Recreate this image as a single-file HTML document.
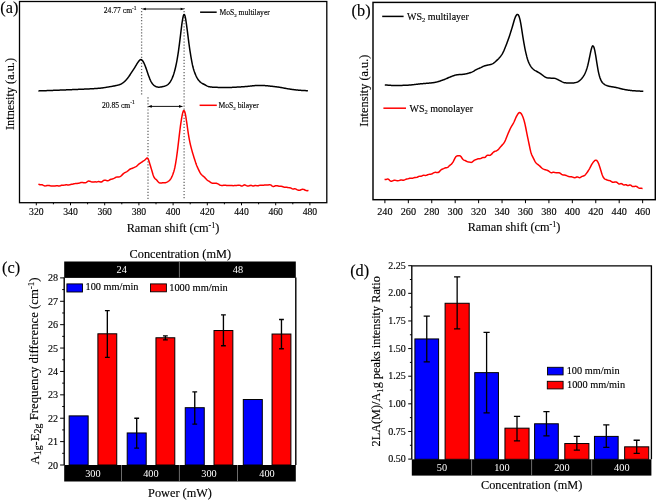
<!DOCTYPE html>
<html><head><meta charset="utf-8"><style>
html,body{margin:0;padding:0;background:#fff;width:656px;height:501px;overflow:hidden;}
</style></head><body>
<svg width="656" height="501" viewBox="0 0 656 501" style="position:absolute;left:0;top:0;font-family:'Liberation Serif', serif;will-change:transform">
<rect x="0" y="0" width="656" height="501" fill="#fff"/>
<style>text{stroke:#000;stroke-width:0.14px;}</style>
<g stroke="#6a6a6a" stroke-width="1.3" stroke-dasharray="1.2,1.85" fill="none">
<line x1="141.6" y1="7.9" x2="141.6" y2="94.5"/>
<line x1="184.1" y1="7.9" x2="184.1" y2="200"/>
<line x1="148" y1="97.2" x2="148" y2="200"/>
</g>
<path d="M38.40,90.89 L38.90,90.88 L39.40,90.87 L39.90,90.85 L40.40,90.83 L40.90,90.82 L41.40,90.80 L41.90,90.78 L42.40,90.77 L42.90,90.75 L43.40,90.73 L43.90,90.72 L44.40,90.70 L44.90,90.68 L45.40,90.66 L45.90,90.65 L46.40,90.63 L46.90,90.61 L47.40,90.59 L47.90,90.58 L48.40,90.56 L48.90,90.54 L49.40,90.52 L49.90,90.50 L50.40,90.49 L50.90,90.47 L51.40,90.45 L51.90,90.43 L52.40,90.41 L52.90,90.39 L53.40,90.37 L53.90,90.36 L54.40,90.34 L54.90,90.32 L55.40,90.30 L55.90,90.28 L56.40,90.26 L56.90,90.24 L57.40,90.22 L57.90,90.20 L58.40,90.18 L58.90,90.16 L59.40,90.14 L59.90,90.12 L60.40,90.10 L60.90,90.08 L61.40,90.06 L61.90,90.04 L62.40,90.02 L62.90,90.00 L63.40,89.98 L63.90,89.96 L64.40,89.94 L64.90,89.92 L65.40,89.90 L65.90,89.88 L66.40,89.86 L66.90,89.84 L67.40,89.82 L67.90,89.80 L68.40,89.78 L68.90,89.76 L69.40,89.74 L69.90,89.72 L70.40,89.69 L70.90,89.67 L71.40,89.65 L71.90,89.63 L72.40,89.61 L72.90,89.59 L73.40,89.57 L73.90,89.55 L74.40,89.53 L74.90,89.50 L75.40,89.48 L75.90,89.46 L76.40,89.44 L76.90,89.42 L77.40,89.40 L77.90,89.38 L78.40,89.36 L78.90,89.34 L79.40,89.32 L79.90,89.30 L80.40,89.28 L80.90,89.26 L81.40,89.24 L81.90,89.22 L82.40,89.20 L82.90,89.18 L83.40,89.16 L83.90,89.13 L84.40,89.11 L84.90,89.09 L85.40,89.07 L85.90,89.05 L86.40,89.03 L86.90,89.00 L87.40,88.98 L87.90,88.96 L88.40,88.93 L88.90,88.91 L89.40,88.88 L89.90,88.86 L90.40,88.83 L90.90,88.80 L91.40,88.78 L91.90,88.75 L92.40,88.72 L92.90,88.70 L93.40,88.67 L93.90,88.64 L94.40,88.61 L94.90,88.58 L95.40,88.55 L95.90,88.52 L96.40,88.48 L96.90,88.45 L97.40,88.41 L97.90,88.37 L98.40,88.34 L98.90,88.29 L99.40,88.25 L99.90,88.20 L100.40,88.16 L100.90,88.10 L101.40,88.04 L101.90,87.98 L102.40,87.92 L102.90,87.85 L103.40,87.77 L103.90,87.70 L104.40,87.62 L104.90,87.54 L105.40,87.46 L105.90,87.37 L106.40,87.29 L106.90,87.20 L107.40,87.12 L107.90,87.03 L108.40,86.95 L108.90,86.87 L109.40,86.78 L109.90,86.70 L110.40,86.62 L110.90,86.54 L111.40,86.46 L111.90,86.37 L112.40,86.29 L112.90,86.20 L113.40,86.11 L113.90,86.02 L114.40,85.92 L114.90,85.82 L115.40,85.71 L115.90,85.61 L116.40,85.50 L116.90,85.39 L117.40,85.27 L117.90,85.14 L118.40,85.00 L118.90,84.85 L119.40,84.69 L119.90,84.50 L120.40,84.30 L120.90,84.06 L121.40,83.79 L121.90,83.49 L122.40,83.16 L122.90,82.81 L123.40,82.44 L123.90,82.05 L124.40,81.62 L124.90,81.17 L125.40,80.68 L125.90,80.15 L126.40,79.60 L126.90,79.02 L127.40,78.42 L127.90,77.79 L128.40,77.13 L128.90,76.44 L129.40,75.71 L129.90,74.96 L130.40,74.20 L130.90,73.43 L131.40,72.66 L131.90,71.90 L132.40,71.14 L132.90,70.38 L133.40,69.62 L133.90,68.85 L134.40,68.08 L134.90,67.28 L135.40,66.47 L135.90,65.64 L136.40,64.79 L136.90,63.96 L137.40,63.15 L137.90,62.39 L138.40,61.69 L138.90,61.04 L139.40,60.46 L139.90,59.98 L140.40,59.66 L140.90,59.55 L141.40,59.67 L141.90,60.01 L142.40,60.53 L142.90,61.20 L143.40,62.01 L143.90,62.95 L144.40,64.03 L144.90,65.23 L145.40,66.52 L145.90,67.88 L146.40,69.29 L146.90,70.75 L147.40,72.24 L147.90,73.71 L148.40,75.15 L148.90,76.53 L149.40,77.86 L149.90,79.11 L150.40,80.27 L150.90,81.30 L151.40,82.20 L151.90,82.99 L152.40,83.68 L152.90,84.29 L153.40,84.83 L153.90,85.28 L154.40,85.66 L154.90,85.98 L155.40,86.26 L155.90,86.51 L156.40,86.72 L156.90,86.90 L157.40,87.03 L157.90,87.11 L158.40,87.15 L158.90,87.16 L159.40,87.13 L159.90,87.09 L160.40,87.03 L160.90,86.96 L161.40,86.89 L161.90,86.80 L162.40,86.71 L162.90,86.61 L163.40,86.50 L163.90,86.37 L164.40,86.23 L164.90,86.07 L165.40,85.89 L165.90,85.68 L166.40,85.45 L166.90,85.19 L167.40,84.88 L167.90,84.51 L168.40,84.07 L168.90,83.55 L169.40,82.96 L169.90,82.29 L170.40,81.55 L170.90,80.73 L171.40,79.80 L171.90,78.78 L172.40,77.64 L172.90,76.38 L173.40,74.99 L173.90,73.46 L174.40,71.78 L174.90,69.95 L175.40,67.96 L175.90,65.78 L176.40,63.41 L176.90,60.81 L177.40,57.97 L177.90,54.89 L178.40,51.54 L178.90,47.96 L179.40,44.16 L179.90,40.17 L180.40,36.06 L180.90,31.90 L181.40,27.81 L181.90,23.96 L182.40,20.51 L182.90,17.66 L183.40,15.59 L183.90,14.47 L184.40,14.46 L184.90,15.56 L185.40,17.65 L185.90,20.50 L186.40,23.87 L186.90,27.54 L187.40,31.39 L187.90,35.36 L188.40,39.36 L188.90,43.25 L189.40,46.91 L189.90,50.30 L190.40,53.49 L190.90,56.54 L191.40,59.45 L191.90,62.17 L192.40,64.63 L192.90,66.80 L193.40,68.67 L193.90,70.32 L194.40,71.80 L194.90,73.14 L195.40,74.38 L195.90,75.53 L196.40,76.60 L196.90,77.58 L197.40,78.46 L197.90,79.24 L198.40,79.94 L198.90,80.56 L199.40,81.12 L199.90,81.63 L200.40,82.09 L200.90,82.51 L201.40,82.88 L201.90,83.21 L202.40,83.51 L202.90,83.79 L203.40,84.04 L203.90,84.28 L204.40,84.52 L204.90,84.77 L205.40,85.03 L205.90,85.31 L206.40,85.59 L206.90,85.87 L207.40,86.13 L207.90,86.35 L208.40,86.53 L208.90,86.67 L209.40,86.78 L209.90,86.86 L210.40,86.93 L210.90,87.00 L211.40,87.05 L211.90,87.10 L212.40,87.15 L212.90,87.19 L213.40,87.22 L213.90,87.25 L214.40,87.27 L214.90,87.29 L215.40,87.31 L215.90,87.33 L216.40,87.34 L216.90,87.36 L217.40,87.37 L217.90,87.38 L218.40,87.40 L218.90,87.41 L219.40,87.42 L219.90,87.43 L220.40,87.44 L220.90,87.45 L221.40,87.46 L221.90,87.47 L222.40,87.47 L222.90,87.48 L223.40,87.48 L223.90,87.49 L224.40,87.49 L224.90,87.50 L225.40,87.50 L225.90,87.50 L226.40,87.50 L226.90,87.50 L227.40,87.49 L227.90,87.49 L228.40,87.48 L228.90,87.47 L229.40,87.46 L229.90,87.44 L230.40,87.43 L230.90,87.41 L231.40,87.40 L231.90,87.38 L232.40,87.36 L232.90,87.33 L233.40,87.31 L233.90,87.29 L234.40,87.26 L234.90,87.24 L235.40,87.21 L235.90,87.18 L236.40,87.15 L236.90,87.12 L237.40,87.09 L237.90,87.06 L238.40,87.03 L238.90,87.00 L239.40,86.97 L239.90,86.94 L240.40,86.91 L240.90,86.88 L241.40,86.85 L241.90,86.82 L242.40,86.78 L242.90,86.75 L243.40,86.72 L243.90,86.69 L244.40,86.66 L244.90,86.62 L245.40,86.58 L245.90,86.54 L246.40,86.50 L246.90,86.45 L247.40,86.40 L247.90,86.35 L248.40,86.30 L248.90,86.24 L249.40,86.19 L249.90,86.13 L250.40,86.08 L250.90,86.02 L251.40,85.97 L251.90,85.91 L252.40,85.86 L252.90,85.81 L253.40,85.76 L253.90,85.71 L254.40,85.67 L254.90,85.62 L255.40,85.58 L255.90,85.55 L256.40,85.51 L256.90,85.48 L257.40,85.46 L257.90,85.44 L258.40,85.42 L258.90,85.41 L259.40,85.41 L259.90,85.41 L260.40,85.41 L260.90,85.42 L261.40,85.43 L261.90,85.45 L262.40,85.47 L262.90,85.49 L263.40,85.52 L263.90,85.55 L264.40,85.58 L264.90,85.61 L265.40,85.65 L265.90,85.69 L266.40,85.73 L266.90,85.78 L267.40,85.83 L267.90,85.87 L268.40,85.92 L268.90,85.98 L269.40,86.03 L269.90,86.08 L270.40,86.14 L270.90,86.19 L271.40,86.25 L271.90,86.30 L272.40,86.36 L272.90,86.42 L273.40,86.48 L273.90,86.53 L274.40,86.59 L274.90,86.64 L275.40,86.70 L275.90,86.76 L276.40,86.82 L276.90,86.89 L277.40,86.96 L277.90,87.03 L278.40,87.10 L278.90,87.18 L279.40,87.26 L279.90,87.35 L280.40,87.43 L280.90,87.52 L281.40,87.61 L281.90,87.70 L282.40,87.79 L282.90,87.88 L283.40,87.97 L283.90,88.07 L284.40,88.16 L284.90,88.25 L285.40,88.35 L285.90,88.44 L286.40,88.53 L286.90,88.62 L287.40,88.71 L287.90,88.79 L288.40,88.88 L288.90,88.96 L289.40,89.04 L289.90,89.11 L290.40,89.19 L290.90,89.26 L291.40,89.33 L291.90,89.39 L292.40,89.46 L292.90,89.53 L293.40,89.59 L293.90,89.66 L294.40,89.72 L294.90,89.78 L295.40,89.84 L295.90,89.90 L296.40,89.96 L296.90,90.02 L297.40,90.07 L297.90,90.12 L298.40,90.17 L298.90,90.21 L299.40,90.25 L299.90,90.29 L300.40,90.33 L300.90,90.36 L301.40,90.39 L301.90,90.42 L302.40,90.45 L302.90,90.48 L303.40,90.51 L303.90,90.54 L304.40,90.56 L304.90,90.59 L305.40,90.61 L305.90,90.63 L306.40,90.65 L306.90,90.66 L307.40,90.68 L307.90,90.68" stroke="#000" stroke-width="1.5" fill="none" stroke-linejoin="round"/>
<path d="M38.40,184.08 L38.90,184.29 L39.40,184.51 L39.90,184.66 L40.40,184.70 L40.90,184.67 L41.40,184.64 L41.90,184.67 L42.40,184.82 L42.90,185.07 L43.40,185.36 L43.90,185.62 L44.40,185.81 L44.90,185.89 L45.40,185.88 L45.90,185.81 L46.40,185.71 L46.90,185.59 L47.40,185.49 L47.90,185.42 L48.40,185.40 L48.90,185.46 L49.40,185.57 L49.90,185.70 L50.40,185.83 L50.90,185.92 L51.40,185.96 L51.90,185.95 L52.40,185.92 L52.90,185.89 L53.40,185.88 L53.90,185.89 L54.40,185.90 L54.90,185.90 L55.40,185.89 L55.90,185.85 L56.40,185.82 L56.90,185.80 L57.40,185.80 L57.90,185.85 L58.40,185.91 L58.90,185.95 L59.40,185.94 L59.90,185.85 L60.40,185.69 L60.90,185.50 L61.40,185.32 L61.90,185.20 L62.40,185.16 L62.90,185.17 L63.40,185.19 L63.90,185.18 L64.40,185.12 L64.90,185.02 L65.40,184.91 L65.90,184.82 L66.40,184.79 L66.90,184.83 L67.40,184.89 L67.90,184.95 L68.40,184.96 L68.90,184.91 L69.40,184.81 L69.90,184.68 L70.40,184.54 L70.90,184.43 L71.40,184.33 L71.90,184.25 L72.40,184.16 L72.90,184.07 L73.40,183.95 L73.90,183.83 L74.40,183.71 L74.90,183.62 L75.40,183.55 L75.90,183.51 L76.40,183.48 L76.90,183.45 L77.40,183.41 L77.90,183.35 L78.40,183.28 L78.90,183.17 L79.40,183.04 L79.90,182.89 L80.40,182.73 L80.90,182.58 L81.40,182.49 L81.90,182.46 L82.40,182.50 L82.90,182.58 L83.40,182.68 L83.90,182.78 L84.40,182.84 L84.90,182.86 L85.40,182.80 L85.90,182.63 L86.40,182.35 L86.90,181.99 L87.40,181.62 L87.90,181.30 L88.40,181.11 L88.90,181.07 L89.40,181.14 L89.90,181.29 L90.40,181.48 L90.90,181.67 L91.40,181.85 L91.90,181.99 L92.40,182.08 L92.90,182.09 L93.40,182.04 L93.90,181.97 L94.40,181.89 L94.90,181.85 L95.40,181.85 L95.90,181.88 L96.40,181.90 L96.90,181.88 L97.40,181.81 L97.90,181.70 L98.40,181.61 L98.90,181.57 L99.40,181.64 L99.90,181.79 L100.40,181.96 L100.90,182.07 L101.40,182.03 L101.90,181.79 L102.40,181.42 L102.90,180.99 L103.40,180.59 L103.90,180.31 L104.40,180.17 L104.90,180.15 L105.40,180.22 L105.90,180.34 L106.40,180.50 L106.90,180.65 L107.40,180.74 L107.90,180.74 L108.40,180.59 L108.90,180.33 L109.40,180.02 L109.90,179.71 L110.40,179.46 L110.90,179.29 L111.40,179.16 L111.90,179.06 L112.40,178.94 L112.90,178.78 L113.40,178.58 L113.90,178.35 L114.40,178.09 L114.90,177.82 L115.40,177.55 L115.90,177.31 L116.40,177.12 L116.90,177.00 L117.40,176.97 L117.90,176.98 L118.40,177.00 L118.90,176.98 L119.40,176.88 L119.90,176.69 L120.40,176.41 L120.90,176.05 L121.40,175.62 L121.90,175.14 L122.40,174.63 L122.90,174.12 L123.40,173.66 L123.90,173.25 L124.40,172.90 L124.90,172.60 L125.40,172.33 L125.90,172.07 L126.40,171.81 L126.90,171.53 L127.40,171.21 L127.90,170.85 L128.40,170.44 L128.90,170.01 L129.40,169.59 L129.90,169.23 L130.40,168.95 L130.90,168.73 L131.40,168.56 L131.90,168.41 L132.40,168.25 L132.90,168.05 L133.40,167.84 L133.90,167.61 L134.40,167.38 L134.90,167.14 L135.40,166.89 L135.90,166.61 L136.40,166.29 L136.90,165.90 L137.40,165.46 L137.90,165.00 L138.40,164.54 L138.90,164.10 L139.40,163.72 L139.90,163.37 L140.40,163.04 L140.90,162.72 L141.40,162.38 L141.90,162.03 L142.40,161.68 L142.90,161.33 L143.40,160.99 L143.90,160.65 L144.40,160.29 L144.90,159.89 L145.40,159.44 L145.90,158.94 L146.40,158.45 L146.90,158.09 L147.40,158.05 L147.90,158.49 L148.40,159.47 L148.90,160.86 L149.40,162.49 L149.90,164.18 L150.40,165.84 L150.90,167.48 L151.40,169.14 L151.90,170.83 L152.40,172.55 L152.90,174.20 L153.40,175.69 L153.90,176.90 L154.40,177.81 L154.90,178.43 L155.40,178.90 L155.90,179.31 L156.40,179.77 L156.90,180.33 L157.40,180.94 L157.90,181.56 L158.40,182.11 L158.90,182.54 L159.40,182.82 L159.90,182.98 L160.40,183.04 L160.90,183.03 L161.40,182.98 L161.90,182.90 L162.40,182.82 L162.90,182.75 L163.40,182.72 L163.90,182.73 L164.40,182.74 L164.90,182.74 L165.40,182.68 L165.90,182.56 L166.40,182.37 L166.90,182.13 L167.40,181.85 L167.90,181.55 L168.40,181.23 L168.90,180.87 L169.40,180.45 L169.90,179.94 L170.40,179.31 L170.90,178.57 L171.40,177.70 L171.90,176.69 L172.40,175.55 L172.90,174.27 L173.40,172.85 L173.90,171.25 L174.40,169.40 L174.90,167.22 L175.40,164.66 L175.90,161.74 L176.40,158.49 L176.90,154.95 L177.40,151.14 L177.90,147.10 L178.40,142.88 L178.90,138.59 L179.40,134.34 L179.90,130.24 L180.40,126.38 L180.90,122.80 L181.40,119.53 L181.90,116.60 L182.40,114.11 L182.90,112.16 L183.40,110.90 L183.90,110.47 L184.40,110.93 L184.90,112.27 L185.40,114.41 L185.90,117.17 L186.40,120.33 L186.90,123.73 L187.40,127.26 L187.90,130.77 L188.40,134.12 L188.90,137.20 L189.40,139.95 L189.90,142.40 L190.40,144.61 L190.90,146.65 L191.40,148.57 L191.90,150.42 L192.40,152.20 L192.90,153.91 L193.40,155.56 L193.90,157.16 L194.40,158.75 L194.90,160.34 L195.40,161.89 L195.90,163.37 L196.40,164.73 L196.90,165.97 L197.40,167.13 L197.90,168.23 L198.40,169.31 L198.90,170.39 L199.40,171.43 L199.90,172.38 L200.40,173.21 L200.90,173.93 L201.40,174.53 L201.90,175.05 L202.40,175.51 L202.90,175.92 L203.40,176.32 L203.90,176.72 L204.40,177.15 L204.90,177.64 L205.40,178.19 L205.90,178.77 L206.40,179.33 L206.90,179.84 L207.40,180.25 L207.90,180.59 L208.40,180.89 L208.90,181.18 L209.40,181.49 L209.90,181.84 L210.40,182.20 L210.90,182.53 L211.40,182.81 L211.90,183.02 L212.40,183.15 L212.90,183.23 L213.40,183.26 L213.90,183.25 L214.40,183.22 L214.90,183.20 L215.40,183.19 L215.90,183.23 L216.40,183.32 L216.90,183.46 L217.40,183.65 L217.90,183.88 L218.40,184.16 L218.90,184.46 L219.40,184.75 L219.90,185.02 L220.40,185.23 L220.90,185.37 L221.40,185.45 L221.90,185.48 L222.40,185.45 L222.90,185.39 L223.40,185.31 L223.90,185.24 L224.40,185.20 L224.90,185.20 L225.40,185.25 L225.90,185.33 L226.40,185.42 L226.90,185.50 L227.40,185.56 L227.90,185.59 L228.40,185.61 L228.90,185.61 L229.40,185.59 L229.90,185.57 L230.40,185.54 L230.90,185.53 L231.40,185.54 L231.90,185.57 L232.40,185.61 L232.90,185.64 L233.40,185.64 L233.90,185.61 L234.40,185.55 L234.90,185.49 L235.40,185.44 L235.90,185.40 L236.40,185.39 L236.90,185.38 L237.40,185.37 L237.90,185.34 L238.40,185.30 L238.90,185.27 L239.40,185.28 L239.90,185.37 L240.40,185.54 L240.90,185.76 L241.40,185.95 L241.90,186.04 L242.40,185.95 L242.90,185.69 L243.40,185.35 L243.90,185.05 L244.40,184.87 L244.90,184.91 L245.40,185.11 L245.90,185.39 L246.40,185.68 L246.90,185.89 L247.40,186.01 L247.90,186.04 L248.40,185.99 L248.90,185.87 L249.40,185.70 L249.90,185.52 L250.40,185.39 L250.90,185.34 L251.40,185.42 L251.90,185.59 L252.40,185.78 L252.90,185.92 L253.40,185.94 L253.90,185.85 L254.40,185.69 L254.90,185.54 L255.40,185.46 L255.90,185.50 L256.40,185.62 L256.90,185.76 L257.40,185.86 L257.90,185.85 L258.40,185.73 L258.90,185.56 L259.40,185.39 L259.90,185.27 L260.40,185.23 L260.90,185.23 L261.40,185.26 L261.90,185.29 L262.40,185.28 L262.90,185.25 L263.40,185.21 L263.90,185.16 L264.40,185.10 L264.90,185.05 L265.40,185.01 L265.90,184.97 L266.40,184.95 L266.90,184.94 L267.40,184.94 L267.90,184.93 L268.40,184.91 L268.90,184.86 L269.40,184.81 L269.90,184.80 L270.40,184.87 L270.90,185.06 L271.40,185.40 L271.90,185.79 L272.40,186.16 L272.90,186.42 L273.40,186.49 L273.90,186.40 L274.40,186.21 L274.90,186.00 L275.40,185.82 L275.90,185.72 L276.40,185.69 L276.90,185.72 L277.40,185.80 L277.90,185.91 L278.40,186.04 L278.90,186.16 L279.40,186.26 L279.90,186.30 L280.40,186.31 L280.90,186.31 L281.40,186.33 L281.90,186.42 L282.40,186.57 L282.90,186.75 L283.40,186.94 L283.90,187.09 L284.40,187.16 L284.90,187.17 L285.40,187.16 L285.90,187.16 L286.40,187.20 L286.90,187.30 L287.40,187.41 L287.90,187.53 L288.40,187.62 L288.90,187.66 L289.40,187.69 L289.90,187.75 L290.40,187.86 L290.90,188.06 L291.40,188.34 L291.90,188.63 L292.40,188.86 L292.90,188.99 L293.40,188.99 L293.90,188.91 L294.40,188.83 L294.90,188.79 L295.40,188.87 L295.90,189.05 L296.40,189.30 L296.90,189.58 L297.40,189.85 L297.90,190.08 L298.40,190.25 L298.90,190.35 L299.40,190.34 L299.90,190.22 L300.40,190.02 L300.90,189.79 L301.40,189.57 L301.90,189.41 L302.40,189.33 L302.90,189.31 L303.40,189.38 L303.90,189.52 L304.40,189.72 L304.90,189.96 L305.40,190.20 L305.90,190.42 L306.40,190.58 L306.90,190.67 L307.40,190.65 L307.90,190.52 L308.40,190.28" stroke="#ff0000" stroke-width="1.5" fill="none" stroke-linejoin="round"/>
<line x1="144.6" y1="9.0" x2="181.8" y2="9.0" stroke="#111" stroke-width="1"/>
<path d="M141.6,9.0 L145.79999999999998,7.7 L145.79999999999998,10.3 Z" fill="#000"/>
<path d="M184.8,9.0 L180.60000000000002,7.7 L180.60000000000002,10.3 Z" fill="#000"/>
<line x1="150.6" y1="106.4" x2="180.2" y2="106.4" stroke="#111" stroke-width="1"/>
<path d="M147.6,106.4 L151.79999999999998,105.10000000000001 L151.79999999999998,107.7 Z" fill="#000"/>
<path d="M183.2,106.4 L179.0,105.10000000000001 L179.0,107.7 Z" fill="#000"/>
<text x="103.8" y="13" font-size="7.6">24.77 cm<tspan font-size="5.4" dy="-3.4">-1</tspan></text>
<text x="102" y="107.8" font-size="7.6">20.85 cm<tspan font-size="5.4" dy="-3.4">-1</tspan></text>
<line x1="200.1" y1="12.2" x2="216.7" y2="12.2" stroke="#000" stroke-width="1.5"/>
<text x="219.4" y="14.9" font-size="7.6">MoS<tspan font-size="5" dy="1.6">2</tspan><tspan dy="-1.6"> multilayer</tspan></text>
<line x1="199.6" y1="105.3" x2="216.8" y2="105.3" stroke="#ff0000" stroke-width="1.5"/>
<text x="218.5" y="108" font-size="7.6">MoS<tspan font-size="5" dy="1.6">2</tspan><tspan dy="-1.6"> bilayer</tspan></text>
<rect x="19.5" y="1.5" width="307.3" height="201.2" fill="none" stroke="#000" stroke-width="1.3"/>
<line x1="36.30" y1="202.7" x2="36.30" y2="205.29999999999998" stroke="#000" stroke-width="1"/>
<text x="36.30" y="215" font-size="9.7" text-anchor="middle" fill="#000" >320</text>
<line x1="53.40" y1="202.7" x2="53.40" y2="204.29999999999998" stroke="#000" stroke-width="1"/>
<line x1="70.50" y1="202.7" x2="70.50" y2="205.29999999999998" stroke="#000" stroke-width="1"/>
<text x="70.50" y="215" font-size="9.7" text-anchor="middle" fill="#000" >340</text>
<line x1="87.60" y1="202.7" x2="87.60" y2="204.29999999999998" stroke="#000" stroke-width="1"/>
<line x1="104.70" y1="202.7" x2="104.70" y2="205.29999999999998" stroke="#000" stroke-width="1"/>
<text x="104.70" y="215" font-size="9.7" text-anchor="middle" fill="#000" >360</text>
<line x1="121.80" y1="202.7" x2="121.80" y2="204.29999999999998" stroke="#000" stroke-width="1"/>
<line x1="138.90" y1="202.7" x2="138.90" y2="205.29999999999998" stroke="#000" stroke-width="1"/>
<text x="138.90" y="215" font-size="9.7" text-anchor="middle" fill="#000" >380</text>
<line x1="156.00" y1="202.7" x2="156.00" y2="204.29999999999998" stroke="#000" stroke-width="1"/>
<line x1="173.10" y1="202.7" x2="173.10" y2="205.29999999999998" stroke="#000" stroke-width="1"/>
<text x="173.10" y="215" font-size="9.7" text-anchor="middle" fill="#000" >400</text>
<line x1="190.20" y1="202.7" x2="190.20" y2="204.29999999999998" stroke="#000" stroke-width="1"/>
<line x1="207.30" y1="202.7" x2="207.30" y2="205.29999999999998" stroke="#000" stroke-width="1"/>
<text x="207.30" y="215" font-size="9.7" text-anchor="middle" fill="#000" >420</text>
<line x1="224.40" y1="202.7" x2="224.40" y2="204.29999999999998" stroke="#000" stroke-width="1"/>
<line x1="241.50" y1="202.7" x2="241.50" y2="205.29999999999998" stroke="#000" stroke-width="1"/>
<text x="241.50" y="215" font-size="9.7" text-anchor="middle" fill="#000" >440</text>
<line x1="258.60" y1="202.7" x2="258.60" y2="204.29999999999998" stroke="#000" stroke-width="1"/>
<line x1="275.70" y1="202.7" x2="275.70" y2="205.29999999999998" stroke="#000" stroke-width="1"/>
<text x="275.70" y="215" font-size="9.7" text-anchor="middle" fill="#000" >460</text>
<line x1="292.80" y1="202.7" x2="292.80" y2="204.29999999999998" stroke="#000" stroke-width="1"/>
<line x1="309.90" y1="202.7" x2="309.90" y2="205.29999999999998" stroke="#000" stroke-width="1"/>
<text x="309.90" y="215" font-size="9.7" text-anchor="middle" fill="#000" >480</text>
<text x="173" y="232.1" font-size="12.3" text-anchor="middle">Raman shift (cm<tspan font-size="8" dy="-4.5">-1</tspan><tspan dy="4.5">)</tspan></text>
<text transform="translate(13.9,94) rotate(-90)" x="0" y="0" font-size="12.3" text-anchor="middle">Intnesity (a.u.)</text>
<text x="0.3" y="12.9" font-size="16.3">(a)</text>
<path d="M384.80,84.93 L385.30,84.96 L385.80,84.99 L386.30,85.03 L386.80,85.08 L387.30,85.12 L387.80,85.15 L388.30,85.19 L388.80,85.23 L389.30,85.26 L389.80,85.29 L390.30,85.32 L390.80,85.35 L391.30,85.38 L391.80,85.40 L392.30,85.42 L392.80,85.44 L393.30,85.46 L393.80,85.47 L394.30,85.48 L394.80,85.49 L395.30,85.49 L395.80,85.50 L396.30,85.50 L396.80,85.50 L397.30,85.49 L397.80,85.49 L398.30,85.48 L398.80,85.47 L399.30,85.46 L399.80,85.45 L400.30,85.44 L400.80,85.43 L401.30,85.42 L401.80,85.40 L402.30,85.39 L402.80,85.37 L403.30,85.35 L403.80,85.33 L404.30,85.32 L404.80,85.30 L405.30,85.28 L405.80,85.26 L406.30,85.24 L406.80,85.22 L407.30,85.19 L407.80,85.17 L408.30,85.14 L408.80,85.11 L409.30,85.07 L409.80,85.03 L410.30,84.99 L410.80,84.94 L411.30,84.89 L411.80,84.84 L412.30,84.79 L412.80,84.73 L413.30,84.68 L413.80,84.62 L414.30,84.56 L414.80,84.50 L415.30,84.44 L415.80,84.38 L416.30,84.32 L416.80,84.26 L417.30,84.20 L417.80,84.14 L418.30,84.08 L418.80,84.03 L419.30,83.97 L419.80,83.92 L420.30,83.87 L420.80,83.83 L421.30,83.78 L421.80,83.73 L422.30,83.69 L422.80,83.65 L423.30,83.61 L423.80,83.57 L424.30,83.53 L424.80,83.49 L425.30,83.45 L425.80,83.41 L426.30,83.37 L426.80,83.33 L427.30,83.29 L427.80,83.24 L428.30,83.20 L428.80,83.15 L429.30,83.11 L429.80,83.06 L430.30,83.01 L430.80,82.96 L431.30,82.90 L431.80,82.84 L432.30,82.78 L432.80,82.72 L433.30,82.65 L433.80,82.58 L434.30,82.51 L434.80,82.42 L435.30,82.33 L435.80,82.23 L436.30,82.11 L436.80,81.99 L437.30,81.86 L437.80,81.72 L438.30,81.57 L438.80,81.42 L439.30,81.26 L439.80,81.09 L440.30,80.92 L440.80,80.75 L441.30,80.57 L441.80,80.39 L442.30,80.21 L442.80,80.03 L443.30,79.85 L443.80,79.67 L444.30,79.48 L444.80,79.29 L445.30,79.08 L445.80,78.87 L446.30,78.66 L446.80,78.44 L447.30,78.22 L447.80,77.99 L448.30,77.77 L448.80,77.56 L449.30,77.34 L449.80,77.14 L450.30,76.94 L450.80,76.75 L451.30,76.55 L451.80,76.36 L452.30,76.16 L452.80,75.97 L453.30,75.78 L453.80,75.60 L454.30,75.43 L454.80,75.27 L455.30,75.13 L455.80,75.01 L456.30,74.90 L456.80,74.82 L457.30,74.76 L457.80,74.70 L458.30,74.66 L458.80,74.62 L459.30,74.59 L459.80,74.55 L460.30,74.52 L460.80,74.49 L461.30,74.46 L461.80,74.42 L462.30,74.38 L462.80,74.33 L463.30,74.28 L463.80,74.21 L464.30,74.14 L464.80,74.06 L465.30,73.97 L465.80,73.87 L466.30,73.77 L466.80,73.66 L467.30,73.54 L467.80,73.41 L468.30,73.28 L468.80,73.14 L469.30,72.99 L469.80,72.84 L470.30,72.69 L470.80,72.52 L471.30,72.34 L471.80,72.13 L472.30,71.90 L472.80,71.65 L473.30,71.38 L473.80,71.09 L474.30,70.78 L474.80,70.48 L475.30,70.17 L475.80,69.87 L476.30,69.58 L476.80,69.32 L477.30,69.07 L477.80,68.85 L478.30,68.64 L478.80,68.45 L479.30,68.26 L479.80,68.05 L480.30,67.83 L480.80,67.59 L481.30,67.33 L481.80,67.07 L482.30,66.80 L482.80,66.55 L483.30,66.32 L483.80,66.11 L484.30,65.94 L484.80,65.79 L485.30,65.66 L485.80,65.53 L486.30,65.42 L486.80,65.30 L487.30,65.19 L487.80,65.09 L488.30,64.98 L488.80,64.88 L489.30,64.78 L489.80,64.67 L490.30,64.55 L490.80,64.42 L491.30,64.27 L491.80,64.09 L492.30,63.87 L492.80,63.62 L493.30,63.32 L493.80,62.98 L494.30,62.60 L494.80,62.19 L495.30,61.76 L495.80,61.31 L496.30,60.85 L496.80,60.38 L497.30,59.91 L497.80,59.42 L498.30,58.92 L498.80,58.40 L499.30,57.85 L499.80,57.27 L500.30,56.66 L500.80,56.01 L501.30,55.32 L501.80,54.58 L502.30,53.77 L502.80,52.88 L503.30,51.91 L503.80,50.86 L504.30,49.73 L504.80,48.54 L505.30,47.31 L505.80,46.04 L506.30,44.75 L506.80,43.43 L507.30,42.10 L507.80,40.73 L508.30,39.33 L508.80,37.89 L509.30,36.41 L509.80,34.90 L510.30,33.36 L510.80,31.81 L511.30,30.23 L511.80,28.63 L512.30,26.98 L512.80,25.27 L513.30,23.50 L513.80,21.73 L514.30,20.03 L514.80,18.49 L515.30,17.18 L515.80,16.11 L516.30,15.29 L516.80,14.70 L517.30,14.39 L517.80,14.44 L518.30,14.91 L518.80,15.81 L519.30,17.12 L519.80,18.84 L520.30,21.02 L520.80,23.65 L521.30,26.65 L521.80,29.86 L522.30,33.10 L522.80,36.28 L523.30,39.37 L523.80,42.36 L524.30,45.19 L524.80,47.83 L525.30,50.29 L525.80,52.56 L526.30,54.69 L526.80,56.65 L527.30,58.44 L527.80,60.03 L528.30,61.42 L528.80,62.64 L529.30,63.72 L529.80,64.70 L530.30,65.58 L530.80,66.39 L531.30,67.11 L531.80,67.75 L532.30,68.31 L532.80,68.81 L533.30,69.25 L533.80,69.65 L534.30,70.01 L534.80,70.34 L535.30,70.65 L535.80,70.94 L536.30,71.22 L536.80,71.49 L537.30,71.75 L537.80,72.02 L538.30,72.29 L538.80,72.57 L539.30,72.87 L539.80,73.18 L540.30,73.52 L540.80,73.87 L541.30,74.23 L541.80,74.61 L542.30,74.99 L542.80,75.37 L543.30,75.74 L543.80,76.10 L544.30,76.44 L544.80,76.76 L545.30,77.05 L545.80,77.31 L546.30,77.54 L546.80,77.71 L547.30,77.85 L547.80,77.94 L548.30,78.01 L548.80,78.05 L549.30,78.08 L549.80,78.10 L550.30,78.11 L550.80,78.13 L551.30,78.14 L551.80,78.16 L552.30,78.17 L552.80,78.19 L553.30,78.22 L553.80,78.25 L554.30,78.30 L554.80,78.37 L555.30,78.49 L555.80,78.64 L556.30,78.84 L556.80,79.07 L557.30,79.31 L557.80,79.55 L558.30,79.80 L558.80,80.05 L559.30,80.31 L559.80,80.58 L560.30,80.86 L560.80,81.14 L561.30,81.42 L561.80,81.69 L562.30,81.94 L562.80,82.17 L563.30,82.37 L563.80,82.53 L564.30,82.66 L564.80,82.75 L565.30,82.82 L565.80,82.86 L566.30,82.90 L566.80,82.93 L567.30,82.96 L567.80,82.99 L568.30,83.01 L568.80,83.04 L569.30,83.05 L569.80,83.07 L570.30,83.08 L570.80,83.09 L571.30,83.09 L571.80,83.08 L572.30,83.06 L572.80,83.03 L573.30,82.98 L573.80,82.91 L574.30,82.83 L574.80,82.73 L575.30,82.63 L575.80,82.51 L576.30,82.37 L576.80,82.22 L577.30,82.04 L577.80,81.82 L578.30,81.55 L578.80,81.23 L579.30,80.86 L579.80,80.45 L580.30,79.99 L580.80,79.49 L581.30,78.96 L581.80,78.40 L582.30,77.81 L582.80,77.16 L583.30,76.45 L583.80,75.66 L584.30,74.78 L584.80,73.81 L585.30,72.74 L585.80,71.57 L586.30,70.27 L586.80,68.80 L587.30,67.13 L587.80,65.23 L588.30,63.13 L588.80,60.88 L589.30,58.52 L589.80,56.09 L590.30,53.64 L590.80,51.28 L591.30,49.17 L591.80,47.47 L592.30,46.32 L592.80,45.83 L593.30,46.08 L593.80,47.01 L594.30,48.56 L594.80,50.66 L595.30,53.27 L595.80,56.23 L596.30,59.39 L596.80,62.60 L597.30,65.74 L597.80,68.69 L598.30,71.33 L598.80,73.60 L599.30,75.54 L599.80,77.20 L600.30,78.65 L600.80,79.89 L601.30,80.94 L601.80,81.78 L602.30,82.46 L602.80,83.01 L603.30,83.48 L603.80,83.88 L604.30,84.25 L604.80,84.57 L605.30,84.87 L605.80,85.13 L606.30,85.36 L606.80,85.56 L607.30,85.75 L607.80,85.91 L608.30,86.05 L608.80,86.19 L609.30,86.30 L609.80,86.41 L610.30,86.51 L610.80,86.61 L611.30,86.70 L611.80,86.78 L612.30,86.86 L612.80,86.94 L613.30,87.01 L613.80,87.09 L614.30,87.17 L614.80,87.26 L615.30,87.35 L615.80,87.45 L616.30,87.55 L616.80,87.66 L617.30,87.77 L617.80,87.89 L618.30,88.02 L618.80,88.14 L619.30,88.27 L619.80,88.40 L620.30,88.53 L620.80,88.66 L621.30,88.79 L621.80,88.92 L622.30,89.04 L622.80,89.16 L623.30,89.28 L623.80,89.39 L624.30,89.50 L624.80,89.60 L625.30,89.69 L625.80,89.78 L626.30,89.86 L626.80,89.94 L627.30,90.01 L627.80,90.09 L628.30,90.16 L628.80,90.23 L629.30,90.30 L629.80,90.36 L630.30,90.42 L630.80,90.48 L631.30,90.54 L631.80,90.59 L632.30,90.64 L632.80,90.69 L633.30,90.73 L633.80,90.77 L634.30,90.80 L634.80,90.84 L635.30,90.87 L635.80,90.90 L636.30,90.93 L636.80,90.96 L637.30,90.99 L637.80,91.02 L638.30,91.04 L638.80,91.07 L639.30,91.09 L639.80,91.11 L640.30,91.13 L640.80,91.15 L641.30,91.16 L641.80,91.18 L642.30,91.19 L642.80,91.19 L643.30,91.20" stroke="#000" stroke-width="1.5" fill="none" stroke-linejoin="round"/>
<path d="M384.60,179.30 L385.10,179.41 L385.60,179.47 L386.10,179.43 L386.60,179.29 L387.10,179.12 L387.60,179.01 L388.10,179.06 L388.60,179.33 L389.10,179.79 L389.60,180.30 L390.10,180.77 L390.60,181.09 L391.10,181.20 L391.60,181.16 L392.10,181.02 L392.60,180.83 L393.10,180.64 L393.60,180.47 L394.10,180.34 L394.60,180.28 L395.10,180.30 L395.60,180.38 L396.10,180.50 L396.60,180.62 L397.10,180.71 L397.60,180.73 L398.10,180.70 L398.60,180.62 L399.10,180.50 L399.60,180.35 L400.10,180.20 L400.60,180.06 L401.10,179.98 L401.60,179.98 L402.10,180.05 L402.60,180.15 L403.10,180.22 L403.60,180.20 L404.10,180.07 L404.60,179.85 L405.10,179.60 L405.60,179.35 L406.10,179.17 L406.60,179.05 L407.10,178.96 L407.60,178.88 L408.10,178.76 L408.60,178.60 L409.10,178.43 L409.60,178.27 L410.10,178.17 L410.60,178.15 L411.10,178.18 L411.60,178.22 L412.10,178.23 L412.60,178.17 L413.10,178.04 L413.60,177.86 L414.10,177.68 L414.60,177.55 L415.10,177.49 L415.60,177.46 L416.10,177.44 L416.60,177.38 L417.10,177.23 L417.60,177.01 L418.10,176.76 L418.60,176.54 L419.10,176.38 L419.60,176.32 L420.10,176.30 L420.60,176.28 L421.10,176.21 L421.60,176.05 L422.10,175.81 L422.60,175.57 L423.10,175.37 L423.60,175.28 L424.10,175.30 L424.60,175.38 L425.10,175.45 L425.60,175.47 L426.10,175.38 L426.60,175.21 L427.10,175.00 L427.60,174.79 L428.10,174.61 L428.60,174.48 L429.10,174.38 L429.60,174.29 L430.10,174.22 L430.60,174.15 L431.10,174.06 L431.60,173.92 L432.10,173.74 L432.60,173.48 L433.10,173.18 L433.60,172.89 L434.10,172.63 L434.60,172.45 L435.10,172.37 L435.60,172.37 L436.10,172.41 L436.60,172.47 L437.10,172.54 L437.60,172.56 L438.10,172.49 L438.60,172.29 L439.10,171.91 L439.60,171.40 L440.10,170.82 L440.60,170.25 L441.10,169.79 L441.60,169.47 L442.10,169.25 L442.60,169.07 L443.10,168.89 L443.60,168.66 L444.10,168.40 L444.60,168.13 L445.10,167.91 L445.60,167.76 L446.10,167.70 L446.60,167.65 L447.10,167.56 L447.60,167.37 L448.10,167.03 L448.60,166.59 L449.10,166.09 L449.60,165.58 L450.10,165.13 L450.60,164.73 L451.10,164.33 L451.60,163.88 L452.10,163.34 L452.60,162.66 L453.10,161.84 L453.60,160.91 L454.10,159.90 L454.60,158.88 L455.10,157.91 L455.60,157.10 L456.10,156.50 L456.60,156.12 L457.10,155.90 L457.60,155.80 L458.10,155.76 L458.60,155.73 L459.10,155.71 L459.60,155.75 L460.10,155.91 L460.60,156.24 L461.10,156.78 L461.60,157.49 L462.10,158.25 L462.60,158.96 L463.10,159.53 L463.60,159.92 L464.10,160.17 L464.60,160.34 L465.10,160.52 L465.60,160.74 L466.10,161.02 L466.60,161.31 L467.10,161.57 L467.60,161.76 L468.10,161.88 L468.60,161.97 L469.10,162.04 L469.60,162.13 L470.10,162.24 L470.60,162.35 L471.10,162.40 L471.60,162.33 L472.10,162.09 L472.60,161.72 L473.10,161.27 L473.60,160.81 L474.10,160.42 L474.60,160.12 L475.10,159.90 L475.60,159.71 L476.10,159.53 L476.60,159.32 L477.10,159.11 L477.60,158.91 L478.10,158.76 L478.60,158.67 L479.10,158.65 L479.60,158.65 L480.10,158.63 L480.60,158.53 L481.10,158.33 L481.60,158.05 L482.10,157.79 L482.60,157.59 L483.10,157.53 L483.60,157.57 L484.10,157.62 L484.60,157.58 L485.10,157.36 L485.60,156.92 L486.10,156.35 L486.60,155.80 L487.10,155.37 L487.60,155.17 L488.10,155.17 L488.60,155.26 L489.10,155.37 L489.60,155.38 L490.10,155.25 L490.60,154.99 L491.10,154.62 L491.60,154.16 L492.10,153.63 L492.60,153.08 L493.10,152.54 L493.60,152.07 L494.10,151.71 L494.60,151.46 L495.10,151.28 L495.60,151.12 L496.10,150.95 L496.60,150.73 L497.10,150.45 L497.60,150.11 L498.10,149.68 L498.60,149.17 L499.10,148.59 L499.60,147.98 L500.10,147.37 L500.60,146.77 L501.10,146.21 L501.60,145.66 L502.10,145.12 L502.60,144.57 L503.10,144.01 L503.60,143.39 L504.10,142.70 L504.60,141.89 L505.10,140.93 L505.60,139.81 L506.10,138.57 L506.60,137.27 L507.10,135.96 L507.60,134.70 L508.10,133.49 L508.60,132.33 L509.10,131.20 L509.60,130.10 L510.10,129.02 L510.60,127.99 L511.10,127.02 L511.60,126.14 L512.10,125.33 L512.60,124.54 L513.10,123.71 L513.60,122.79 L514.10,121.74 L514.60,120.60 L515.10,119.43 L515.60,118.27 L516.10,117.19 L516.60,116.20 L517.10,115.29 L517.60,114.45 L518.10,113.71 L518.60,113.10 L519.10,112.72 L519.60,112.58 L520.10,112.68 L520.60,113.00 L521.10,113.53 L521.60,114.27 L522.10,115.21 L522.60,116.31 L523.10,117.56 L523.60,119.00 L524.10,120.65 L524.60,122.53 L525.10,124.65 L525.60,126.99 L526.10,129.48 L526.60,132.06 L527.10,134.59 L527.60,137.04 L528.10,139.43 L528.60,141.81 L529.10,144.24 L529.60,146.70 L530.10,149.06 L530.60,151.19 L531.10,153.03 L531.60,154.50 L532.10,155.70 L532.60,156.72 L533.10,157.67 L533.60,158.64 L534.10,159.65 L534.60,160.66 L535.10,161.59 L535.60,162.39 L536.10,163.03 L536.60,163.53 L537.10,163.94 L537.60,164.31 L538.10,164.67 L538.60,165.05 L539.10,165.46 L539.60,165.89 L540.10,166.35 L540.60,166.85 L541.10,167.35 L541.60,167.82 L542.10,168.25 L542.60,168.61 L543.10,168.90 L543.60,169.14 L544.10,169.35 L544.60,169.53 L545.10,169.69 L545.60,169.84 L546.10,169.99 L546.60,170.14 L547.10,170.30 L547.60,170.48 L548.10,170.70 L548.60,170.99 L549.10,171.34 L549.60,171.75 L550.10,172.13 L550.60,172.45 L551.10,172.63 L551.60,172.65 L552.10,172.57 L552.60,172.45 L553.10,172.35 L553.60,172.32 L554.10,172.37 L554.60,172.46 L555.10,172.56 L555.60,172.63 L556.10,172.67 L556.60,172.67 L557.10,172.65 L557.60,172.64 L558.10,172.63 L558.60,172.66 L559.10,172.75 L559.60,172.92 L560.10,173.20 L560.60,173.55 L561.10,173.94 L561.60,174.30 L562.10,174.60 L562.60,174.79 L563.10,174.91 L563.60,174.97 L564.10,175.02 L564.60,175.07 L565.10,175.15 L565.60,175.27 L566.10,175.43 L566.60,175.63 L567.10,175.87 L567.60,176.12 L568.10,176.33 L568.60,176.50 L569.10,176.60 L569.60,176.64 L570.10,176.66 L570.60,176.68 L571.10,176.74 L571.60,176.85 L572.10,176.98 L572.60,177.13 L573.10,177.30 L573.60,177.47 L574.10,177.61 L574.60,177.68 L575.10,177.65 L575.60,177.50 L576.10,177.26 L576.60,177.03 L577.10,176.89 L577.60,176.92 L578.10,177.11 L578.60,177.38 L579.10,177.61 L579.60,177.72 L580.10,177.60 L580.60,177.32 L581.10,176.97 L581.60,176.62 L582.10,176.37 L582.60,176.21 L583.10,176.10 L583.60,175.97 L584.10,175.74 L584.60,175.39 L585.10,174.93 L585.60,174.39 L586.10,173.78 L586.60,173.14 L587.10,172.45 L587.60,171.74 L588.10,170.99 L588.60,170.21 L589.10,169.39 L589.60,168.51 L590.10,167.58 L590.60,166.62 L591.10,165.66 L591.60,164.72 L592.10,163.86 L592.60,163.08 L593.10,162.38 L593.60,161.75 L594.10,161.18 L594.60,160.70 L595.10,160.35 L595.60,160.16 L596.10,160.17 L596.60,160.41 L597.10,160.89 L597.60,161.58 L598.10,162.47 L598.60,163.58 L599.10,164.91 L599.60,166.44 L600.10,168.06 L600.60,169.70 L601.10,171.32 L601.60,172.90 L602.10,174.42 L602.60,175.80 L603.10,176.95 L603.60,177.80 L604.10,178.39 L604.60,178.80 L605.10,179.09 L605.60,179.33 L606.10,179.55 L606.60,179.77 L607.10,179.97 L607.60,180.16 L608.10,180.31 L608.60,180.42 L609.10,180.51 L609.60,180.62 L610.10,180.77 L610.60,181.01 L611.10,181.34 L611.60,181.69 L612.10,182.01 L612.60,182.23 L613.10,182.31 L613.60,182.28 L614.10,182.19 L614.60,182.07 L615.10,181.99 L615.60,181.96 L616.10,182.01 L616.60,182.18 L617.10,182.47 L617.60,182.88 L618.10,183.33 L618.60,183.72 L619.10,183.97 L619.60,184.00 L620.10,183.86 L620.60,183.67 L621.10,183.56 L621.60,183.64 L622.10,183.93 L622.60,184.32 L623.10,184.70 L623.60,184.95 L624.10,184.99 L624.60,184.89 L625.10,184.75 L625.60,184.67 L626.10,184.75 L626.60,184.97 L627.10,185.24 L627.60,185.46 L628.10,185.53 L628.60,185.42 L629.10,185.21 L629.60,185.02 L630.10,184.95 L630.60,185.11 L631.10,185.43 L631.60,185.84 L632.10,186.22 L632.60,186.49 L633.10,186.60 L633.60,186.59 L634.10,186.52 L634.60,186.42 L635.10,186.34 L635.60,186.31 L636.10,186.35 L636.60,186.49 L637.10,186.76 L637.60,187.12 L638.10,187.52 L638.60,187.88 L639.10,188.15 L639.60,188.29 L640.10,188.33 L640.60,188.33 L641.10,188.32 L641.60,188.33 L642.10,188.38 L642.60,188.41" stroke="#ff0000" stroke-width="1.5" fill="none" stroke-linejoin="round"/>
<line x1="382.2" y1="16.4" x2="403.6" y2="16.4" stroke="#000" stroke-width="1.5"/>
<text x="407" y="20" font-size="10">WS<tspan font-size="6.5" dy="2">2</tspan><tspan dy="-2"> multilayer</tspan></text>
<line x1="383.4" y1="108.2" x2="406" y2="108.2" stroke="#ff0000" stroke-width="1.5"/>
<text x="409.5" y="112" font-size="10">WS<tspan font-size="6.5" dy="2">2</tspan><tspan dy="-2"> monolayer</tspan></text>
<rect x="373.0" y="2.4" width="282.29999999999995" height="197.29999999999998" fill="none" stroke="#000" stroke-width="1.45"/>
<line x1="384.90" y1="199.7" x2="384.90" y2="203.2" stroke="#000" stroke-width="1"/>
<text x="384.90" y="214.6" font-size="10.2" text-anchor="middle" fill="#000" >240</text>
<line x1="408.33" y1="199.7" x2="408.33" y2="203.2" stroke="#000" stroke-width="1"/>
<text x="408.33" y="214.6" font-size="10.2" text-anchor="middle" fill="#000" >260</text>
<line x1="431.76" y1="199.7" x2="431.76" y2="203.2" stroke="#000" stroke-width="1"/>
<text x="431.76" y="214.6" font-size="10.2" text-anchor="middle" fill="#000" >280</text>
<line x1="455.19" y1="199.7" x2="455.19" y2="203.2" stroke="#000" stroke-width="1"/>
<text x="455.19" y="214.6" font-size="10.2" text-anchor="middle" fill="#000" >300</text>
<line x1="478.62" y1="199.7" x2="478.62" y2="203.2" stroke="#000" stroke-width="1"/>
<text x="478.62" y="214.6" font-size="10.2" text-anchor="middle" fill="#000" >320</text>
<line x1="502.05" y1="199.7" x2="502.05" y2="203.2" stroke="#000" stroke-width="1"/>
<text x="502.05" y="214.6" font-size="10.2" text-anchor="middle" fill="#000" >340</text>
<line x1="525.48" y1="199.7" x2="525.48" y2="203.2" stroke="#000" stroke-width="1"/>
<text x="525.48" y="214.6" font-size="10.2" text-anchor="middle" fill="#000" >360</text>
<line x1="548.91" y1="199.7" x2="548.91" y2="203.2" stroke="#000" stroke-width="1"/>
<text x="548.91" y="214.6" font-size="10.2" text-anchor="middle" fill="#000" >380</text>
<line x1="572.34" y1="199.7" x2="572.34" y2="203.2" stroke="#000" stroke-width="1"/>
<text x="572.34" y="214.6" font-size="10.2" text-anchor="middle" fill="#000" >400</text>
<line x1="595.77" y1="199.7" x2="595.77" y2="203.2" stroke="#000" stroke-width="1"/>
<text x="595.77" y="214.6" font-size="10.2" text-anchor="middle" fill="#000" >420</text>
<line x1="619.20" y1="199.7" x2="619.20" y2="203.2" stroke="#000" stroke-width="1"/>
<text x="619.20" y="214.6" font-size="10.2" text-anchor="middle" fill="#000" >440</text>
<line x1="642.63" y1="199.7" x2="642.63" y2="203.2" stroke="#000" stroke-width="1"/>
<text x="642.63" y="214.6" font-size="10.2" text-anchor="middle" fill="#000" >460</text>
<text x="514" y="231" font-size="12.3" text-anchor="middle">Raman shift (cm<tspan font-size="8" dy="-4.5">-1</tspan><tspan dy="4.5">)</tspan></text>
<text transform="translate(367.5,90.6) rotate(-90)" x="0" y="0" font-size="12.3" text-anchor="middle">Intensity (a.u.)</text>
<text x="351.6" y="15.8" font-size="16.3">(b)</text>
<text x="180.3" y="258.4" font-size="12.3" text-anchor="middle" fill="#000" >Concentration (mM)</text>
<rect x="64.2" y="261.5" width="231.60000000000002" height="16.400000000000023" fill="#000"/>
<line x1="179.4" y1="261.5" x2="179.4" y2="277.6" stroke="#888" stroke-width="0.8"/>
<text x="121.7" y="273" font-size="10.3" text-anchor="middle" fill="#fff" style="stroke:none" >24</text>
<text x="238" y="273" font-size="10.3" text-anchor="middle" fill="#fff" style="stroke:none" >48</text>
<rect x="64.2" y="465.0" width="231.60000000000002" height="16.5" fill="#000"/>
<line x1="121.5" y1="465.0" x2="121.5" y2="481.5" stroke="#888" stroke-width="0.8"/>
<line x1="179.4" y1="465.0" x2="179.4" y2="481.5" stroke="#888" stroke-width="0.8"/>
<line x1="237.5" y1="465.0" x2="237.5" y2="481.5" stroke="#888" stroke-width="0.8"/>
<text x="92.90" y="477.3" font-size="10.3" text-anchor="middle" fill="#fff" style="stroke:none" >300</text>
<text x="150.95" y="477.3" font-size="10.3" text-anchor="middle" fill="#fff" style="stroke:none" >400</text>
<text x="209.00" y="477.3" font-size="10.3" text-anchor="middle" fill="#fff" style="stroke:none" >300</text>
<text x="267.05" y="477.3" font-size="10.3" text-anchor="middle" fill="#fff" style="stroke:none" >400</text>
<text x="180" y="497.4" font-size="12.3" text-anchor="middle" fill="#000" >Power (mW)</text>
<rect x="69.15" y="415.89" width="19.00" height="49.11" fill="#0000ff" stroke="#000" stroke-width="1"/>
<rect x="97.90" y="333.80" width="18.85" height="131.20" fill="#ff0000" stroke="#000" stroke-width="1"/>
<path d="M107.33,310.64 V357.42 M104.92,310.64 H109.73 M104.92,357.42 H109.73" stroke="#000" stroke-width="1.35" fill="none"/>
<rect x="127.20" y="432.96" width="19.00" height="32.04" fill="#0000ff" stroke="#000" stroke-width="1"/>
<path d="M136.70,418.23 V448.16 M134.30,418.23 H139.10 M134.30,448.16 H139.10" stroke="#000" stroke-width="1.35" fill="none"/>
<rect x="155.95" y="337.77" width="18.85" height="127.23" fill="#ff0000" stroke="#000" stroke-width="1"/>
<path d="M165.38,335.90 V339.88 M162.97,335.90 H167.78 M162.97,339.88 H167.78" stroke="#000" stroke-width="1.35" fill="none"/>
<rect x="185.25" y="407.70" width="19.00" height="57.30" fill="#0000ff" stroke="#000" stroke-width="1"/>
<path d="M194.75,391.80 V424.07 M192.35,391.80 H197.15 M192.35,424.07 H197.15" stroke="#000" stroke-width="1.35" fill="none"/>
<rect x="214.00" y="330.52" width="18.85" height="134.48" fill="#ff0000" stroke="#000" stroke-width="1"/>
<path d="M223.43,314.85 V345.72 M221.03,314.85 H225.83 M221.03,345.72 H225.83" stroke="#000" stroke-width="1.35" fill="none"/>
<rect x="243.30" y="399.51" width="19.00" height="65.49" fill="#0000ff" stroke="#000" stroke-width="1"/>
<rect x="272.05" y="334.03" width="18.85" height="130.97" fill="#ff0000" stroke="#000" stroke-width="1"/>
<path d="M281.47,319.53 V348.76 M279.07,319.53 H283.87 M279.07,348.76 H283.87" stroke="#000" stroke-width="1.35" fill="none"/>
<path d="M64.2,277.6 V465.0 M295.8,277.6 V465.0" stroke="#000" stroke-width="1.4" fill="none"/>
<line x1="60.10" y1="465.00" x2="64.2" y2="465.00" stroke="#000" stroke-width="1"/>
<text x="58.0" y="468.50" font-size="10.1" text-anchor="end" fill="#000" >20</text>
<line x1="62.20" y1="453.31" x2="64.2" y2="453.31" stroke="#000" stroke-width="1"/>
<line x1="60.10" y1="441.61" x2="64.2" y2="441.61" stroke="#000" stroke-width="1"/>
<text x="58.0" y="445.11" font-size="10.1" text-anchor="end" fill="#000" >21</text>
<line x1="62.20" y1="429.92" x2="64.2" y2="429.92" stroke="#000" stroke-width="1"/>
<line x1="60.10" y1="418.23" x2="64.2" y2="418.23" stroke="#000" stroke-width="1"/>
<text x="58.0" y="421.73" font-size="10.1" text-anchor="end" fill="#000" >22</text>
<line x1="62.20" y1="406.53" x2="64.2" y2="406.53" stroke="#000" stroke-width="1"/>
<line x1="60.10" y1="394.84" x2="64.2" y2="394.84" stroke="#000" stroke-width="1"/>
<text x="58.0" y="398.34" font-size="10.1" text-anchor="end" fill="#000" >23</text>
<line x1="62.20" y1="383.14" x2="64.2" y2="383.14" stroke="#000" stroke-width="1"/>
<line x1="60.10" y1="371.45" x2="64.2" y2="371.45" stroke="#000" stroke-width="1"/>
<text x="58.0" y="374.95" font-size="10.1" text-anchor="end" fill="#000" >24</text>
<line x1="62.20" y1="359.76" x2="64.2" y2="359.76" stroke="#000" stroke-width="1"/>
<line x1="60.10" y1="348.06" x2="64.2" y2="348.06" stroke="#000" stroke-width="1"/>
<text x="58.0" y="351.56" font-size="10.1" text-anchor="end" fill="#000" >25</text>
<line x1="62.20" y1="336.37" x2="64.2" y2="336.37" stroke="#000" stroke-width="1"/>
<line x1="60.10" y1="324.67" x2="64.2" y2="324.67" stroke="#000" stroke-width="1"/>
<text x="58.0" y="328.17" font-size="10.1" text-anchor="end" fill="#000" >26</text>
<line x1="62.20" y1="312.98" x2="64.2" y2="312.98" stroke="#000" stroke-width="1"/>
<line x1="60.10" y1="301.29" x2="64.2" y2="301.29" stroke="#000" stroke-width="1"/>
<text x="58.0" y="304.79" font-size="10.1" text-anchor="end" fill="#000" >27</text>
<line x1="62.20" y1="289.59" x2="64.2" y2="289.59" stroke="#000" stroke-width="1"/>
<line x1="60.10" y1="277.90" x2="64.2" y2="277.90" stroke="#000" stroke-width="1"/>
<text x="58.0" y="281.40" font-size="10.1" text-anchor="end" fill="#000" >28</text>
<rect x="66.9" y="283.9" width="15.6" height="8.1" fill="#0000ff" stroke="#000" stroke-width="0.9"/>
<text x="85.5" y="290.1" font-size="10.3" text-anchor="start" fill="#000" >100 mm/min</text>
<rect x="150.5" y="283.9" width="15.9" height="7.9" fill="#ff0000" stroke="#000" stroke-width="0.9"/>
<text x="169.2" y="290.9" font-size="10.4" text-anchor="start" fill="#000" >1000 mm/min</text>
<text transform="translate(38.5,464.5) rotate(-90)" x="0" y="0" font-size="12.3" textLength="187" lengthAdjust="spacingAndGlyphs">A<tspan font-size="9.6" dy="2.3">1g</tspan><tspan dy="-2.3">-E</tspan><tspan font-size="9.6" dy="2.3">2g</tspan><tspan dy="-2.5"> Frequency difference (cm</tspan><tspan font-size="8.6" dy="-4.5">-1</tspan><tspan dy="4.5">)</tspan></text>
<text x="2" y="272.5" font-size="16.3">(c)</text>
<rect x="411.8" y="459.3" width="239.59999999999997" height="16.3" fill="#000"/>
<line x1="471.6" y1="459.3" x2="471.6" y2="475.6" stroke="#888" stroke-width="0.8"/>
<line x1="531.6" y1="459.3" x2="531.6" y2="475.6" stroke="#888" stroke-width="0.8"/>
<line x1="591.7" y1="459.3" x2="591.7" y2="475.6" stroke="#888" stroke-width="0.8"/>
<text x="442.00" y="471" font-size="10.3" text-anchor="middle" fill="#fff" style="stroke:none" >50</text>
<text x="501.95" y="471" font-size="10.3" text-anchor="middle" fill="#fff" style="stroke:none" >100</text>
<text x="561.90" y="471" font-size="10.3" text-anchor="middle" fill="#fff" style="stroke:none" >200</text>
<text x="621.85" y="471" font-size="10.3" text-anchor="middle" fill="#fff" style="stroke:none" >400</text>
<text x="531.7" y="489" font-size="12.3" text-anchor="middle" fill="#000" >Concentration (mM)</text>
<rect x="414.90" y="338.94" width="23.70" height="120.36" fill="#0000ff" stroke="#000" stroke-width="1"/>
<path d="M426.75,316.22 V361.88 M423.65,316.22 H429.85 M423.65,361.88 H429.85" stroke="#000" stroke-width="1.3" fill="none"/>
<rect x="445.10" y="303.27" width="24.10" height="156.03" fill="#ff0000" stroke="#000" stroke-width="1"/>
<path d="M457.15,276.93 V328.96 M454.05,276.93 H460.25 M454.05,328.96 H460.25" stroke="#000" stroke-width="1.3" fill="none"/>
<rect x="474.75" y="372.64" width="23.70" height="86.66" fill="#0000ff" stroke="#000" stroke-width="1"/>
<path d="M486.60,332.47 V412.80 M483.50,332.47 H489.70 M483.50,412.80 H489.70" stroke="#000" stroke-width="1.3" fill="none"/>
<rect x="504.95" y="428.17" width="24.10" height="31.13" fill="#ff0000" stroke="#000" stroke-width="1"/>
<path d="M517.00,416.32 V440.79 M513.90,416.32 H520.10 M513.90,440.79 H520.10" stroke="#000" stroke-width="1.3" fill="none"/>
<rect x="534.60" y="423.78" width="23.70" height="35.52" fill="#0000ff" stroke="#000" stroke-width="1"/>
<path d="M546.45,411.71 V435.85 M543.35,411.71 H549.55 M543.35,435.85 H549.55" stroke="#000" stroke-width="1.3" fill="none"/>
<rect x="564.80" y="443.53" width="24.10" height="15.77" fill="#ff0000" stroke="#000" stroke-width="1"/>
<path d="M576.85,436.40 V450.12 M573.75,436.40 H579.95 M573.75,450.12 H579.95" stroke="#000" stroke-width="1.3" fill="none"/>
<rect x="594.45" y="436.40" width="23.70" height="22.90" fill="#0000ff" stroke="#000" stroke-width="1"/>
<path d="M606.30,424.88 V447.38 M603.20,424.88 H609.40 M603.20,447.38 H609.40" stroke="#000" stroke-width="1.3" fill="none"/>
<rect x="624.65" y="446.83" width="24.10" height="12.47" fill="#ff0000" stroke="#000" stroke-width="1"/>
<path d="M636.70,440.24 V453.41 M633.60,440.24 H639.80 M633.60,453.41 H639.80" stroke="#000" stroke-width="1.3" fill="none"/>
<path d="M411.8,459.3 V265.8 H651.4 V459.3" stroke="#000" stroke-width="1.35" fill="none"/>
<line x1="408.20" y1="459.10" x2="411.8" y2="459.10" stroke="#000" stroke-width="1"/>
<text x="405.8" y="462.20" font-size="10" text-anchor="end" fill="#000" >0.50</text>
<line x1="409.90" y1="445.29" x2="411.8" y2="445.29" stroke="#000" stroke-width="1"/>
<line x1="408.20" y1="431.47" x2="411.8" y2="431.47" stroke="#000" stroke-width="1"/>
<text x="405.8" y="434.57" font-size="10" text-anchor="end" fill="#000" >0.75</text>
<line x1="409.90" y1="417.66" x2="411.8" y2="417.66" stroke="#000" stroke-width="1"/>
<line x1="408.20" y1="403.84" x2="411.8" y2="403.84" stroke="#000" stroke-width="1"/>
<text x="405.8" y="406.94" font-size="10" text-anchor="end" fill="#000" >1.00</text>
<line x1="409.90" y1="390.03" x2="411.8" y2="390.03" stroke="#000" stroke-width="1"/>
<line x1="408.20" y1="376.21" x2="411.8" y2="376.21" stroke="#000" stroke-width="1"/>
<text x="405.8" y="379.31" font-size="10" text-anchor="end" fill="#000" >1.25</text>
<line x1="409.90" y1="362.40" x2="411.8" y2="362.40" stroke="#000" stroke-width="1"/>
<line x1="408.20" y1="348.59" x2="411.8" y2="348.59" stroke="#000" stroke-width="1"/>
<text x="405.8" y="351.69" font-size="10" text-anchor="end" fill="#000" >1.50</text>
<line x1="409.90" y1="334.77" x2="411.8" y2="334.77" stroke="#000" stroke-width="1"/>
<line x1="408.20" y1="320.96" x2="411.8" y2="320.96" stroke="#000" stroke-width="1"/>
<text x="405.8" y="324.06" font-size="10" text-anchor="end" fill="#000" >1.75</text>
<line x1="409.90" y1="307.14" x2="411.8" y2="307.14" stroke="#000" stroke-width="1"/>
<line x1="408.20" y1="293.33" x2="411.8" y2="293.33" stroke="#000" stroke-width="1"/>
<text x="405.8" y="296.43" font-size="10" text-anchor="end" fill="#000" >2.00</text>
<line x1="409.90" y1="279.51" x2="411.8" y2="279.51" stroke="#000" stroke-width="1"/>
<line x1="408.20" y1="265.70" x2="411.8" y2="265.70" stroke="#000" stroke-width="1"/>
<text x="405.8" y="268.80" font-size="10" text-anchor="end" fill="#000" >2.25</text>
<rect x="547.5" y="367.3" width="15.6" height="7.6" fill="#0000ff" stroke="#000" stroke-width="0.9"/>
<text x="566.7" y="373.9" font-size="10.3" text-anchor="start" fill="#000" >100 mm/min</text>
<rect x="547.3" y="381.3" width="15.8" height="7.6" fill="#ff0000" stroke="#000" stroke-width="0.9"/>
<text x="567" y="388.3" font-size="10.3" text-anchor="start" fill="#000" >1000 mm/min</text>
<text transform="translate(380.2,446.5) rotate(-90)" x="0" y="0" font-size="12.3" textLength="170.3" lengthAdjust="spacingAndGlyphs">2LA(M)/A<tspan font-size="8.6" dy="2.5">1</tspan><tspan dy="-2.5">g peaks intensity Ratio</tspan></text>
<text x="350.2" y="276.3" font-size="16.3">(d)</text>
</svg>
</body></html>
